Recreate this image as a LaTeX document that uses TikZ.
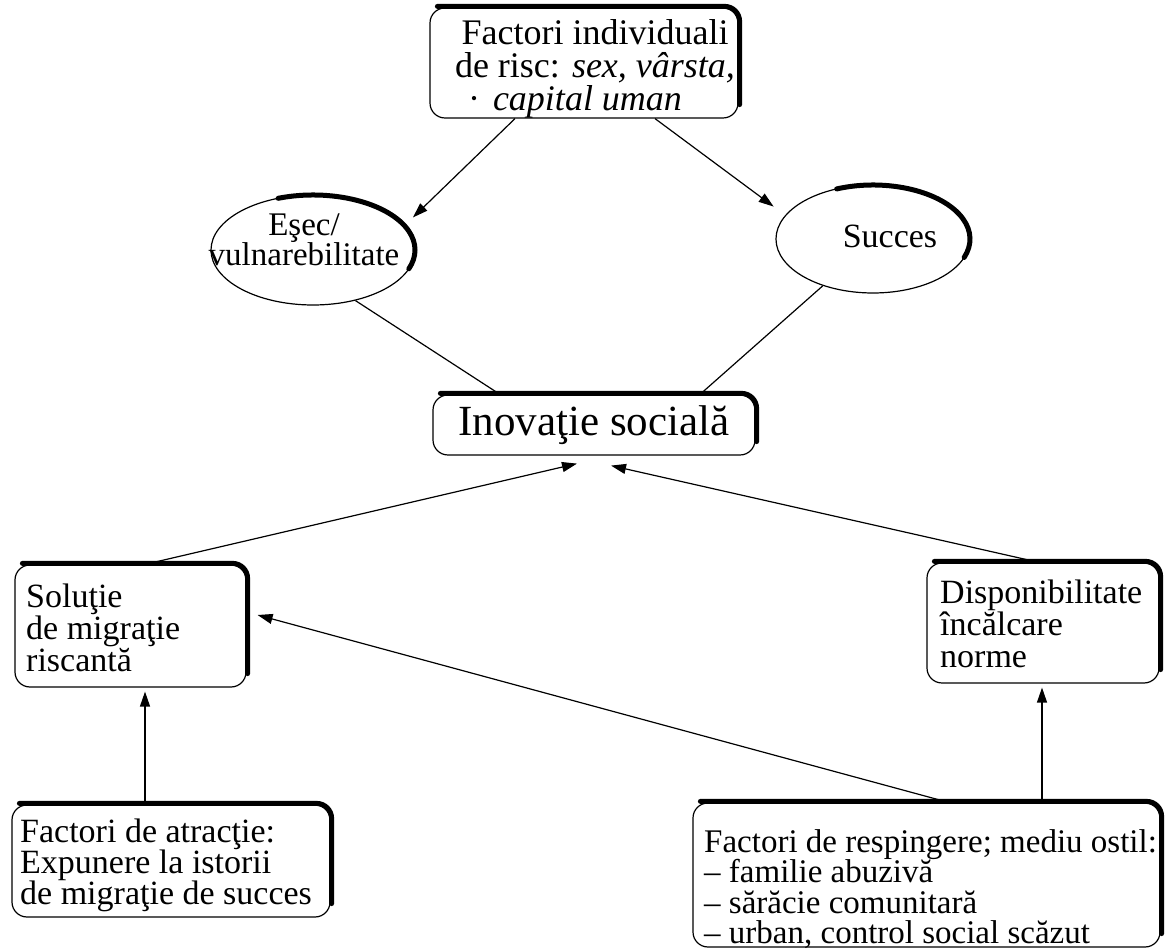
\documentclass[tikz,border=0pt]{standalone}
\usepackage{fontspec}
\setmainfont{Liberation Serif}
\usetikzlibrary{arrows.meta,shapes.geometric,calc}
\lineskiplimit=-50pt\relax
\begin{document}
\begin{tikzpicture}[x=1pt,y=1pt,
  box/.style={draw, line width=1.2pt, rounded corners=15pt, inner sep=0pt},
  oval/.style={draw, ellipse, line width=1.2pt, inner sep=0pt},
  txt/.style={font=\fontsize{34}{32}\selectfont, inner sep=0pt, align=left},
  arr/.style={line width=1.2pt, -{Triangle[length=15pt,width=10pt]}},
  conn/.style={line width=1.2pt},
  heavy/.style={line width=5pt, line cap=round, rounded corners=15pt}]
\useasboundingbox (0,0) rectangle (1165,951);

% boxes
\node[box, minimum width=308pt, minimum height=110pt] (top) at (584,888) {};
\node[txt, align=center, anchor=north, font=\fontsize{36}{33}\selectfont] (toptxt) at (595,931.5)
  {Factori individuali\\de risc: \textit{sex, vârsta,}\\\textperiodcentered\hspace{13pt}\textit{capital uman}\hspace*{40pt}};
\node[box, minimum width=322pt, minimum height=60pt,
      font=\fontsize{43}{43}\selectfont] (inov) at (594,526) {Inovaţie socială};
\node[box, minimum width=231pt, minimum height=122pt] (sol) at (130.5,325) {};
\node[txt, anchor=north west] (soltxt) at (26,367) {Soluţie\\de migraţie\\riscantă};
\node[box, minimum width=232pt, minimum height=120pt] (disp) at (1043,328) {};
\node[txt, anchor=north west] (disptxt) at (940,371) {Disponibilitate\\încălcare\\norme};
\node[box, minimum width=318pt, minimum height=112pt] (atr) at (171,90) {};
\node[txt, anchor=north west, font=\fontsize{34}{31}\selectfont] (atrtxt) at (20,132) {Factori de atracţie:\\Expunere la istorii\\de migraţie de succes};
\node[box, minimum width=467pt, minimum height=144pt] (resp) at (926.5,76) {};
\node[txt, anchor=north west, font=\fontsize{33}{30.5}\selectfont] (resptxt) at (704,122)
  {Factori de respingere; mediu ostil:\\– familie abuzivă\\– sărăcie comunitară\\– urban, control social scăzut};

% ellipses
\node[oval, minimum width=204pt, minimum height=110pt] (esec) at (313,701) {};
\node[txt, align=center, anchor=north, font=\fontsize{33}{30}\selectfont] (esectxt) at (304,737) {Eşec/\\vulnarebilitate};
\node[oval, minimum width=194pt, minimum height=108pt] (succ) at (873,712) {};
\node[txt] (succtxt) at (890,715) {Succes};

% heavy shadow edges
\foreach \n in {top,inov,sol,disp,atr,resp}{
  \draw[heavy] ([shift={(8pt,1pt)}]\n.north west) -- ([shift={(1pt,1pt)}]\n.north east) -- ([shift={(1pt,14pt)}]\n.south east);
}
\draw[line width=5pt, line cap=round] ([shift={(110:102pt and 55pt)}]esec.center)
  arc[start angle=110, end angle=-20, x radius=102pt, y radius=55pt];
\draw[line width=5pt, line cap=round] ([shift={(112:97pt and 54pt)}]succ.center)
  arc[start angle=112, end angle=-20, x radius=97pt, y radius=54pt];

% connectors
\draw[arr] ([xshift=-69pt]top.south) -- ([shift={(12pt,4pt)}]esec.18);
\draw[arr] ([xshift=71pt]top.south) -- ([shift={(-15pt,5pt)}]succ.162);
\draw[conn] (esec.-50) -- ([xshift=-94pt]inov.north);
\draw[conn] (succ.-137) -- ([xshift=106pt]inov.north);
\draw[arr] ([xshift=14.5pt]sol.north) -- ([shift={(-17pt,-8pt)}]inov.south);
\draw[arr] ([xshift=-4pt]disp.north) -- ([shift={(17pt,-10pt)}]inov.south);
\draw[arr] ([xshift=22pt]resp.north) -- ([shift={(11pt,11pt)}]sol.east);
\draw[arr] ([xshift=115.5pt]resp.north) -- ([xshift=-1pt,yshift=-4pt]disp.south);
\draw[arr] ([xshift=-26pt]atr.north) -- ([xshift=14.5pt,yshift=-4pt]sol.south);
\end{tikzpicture}
\end{document}
